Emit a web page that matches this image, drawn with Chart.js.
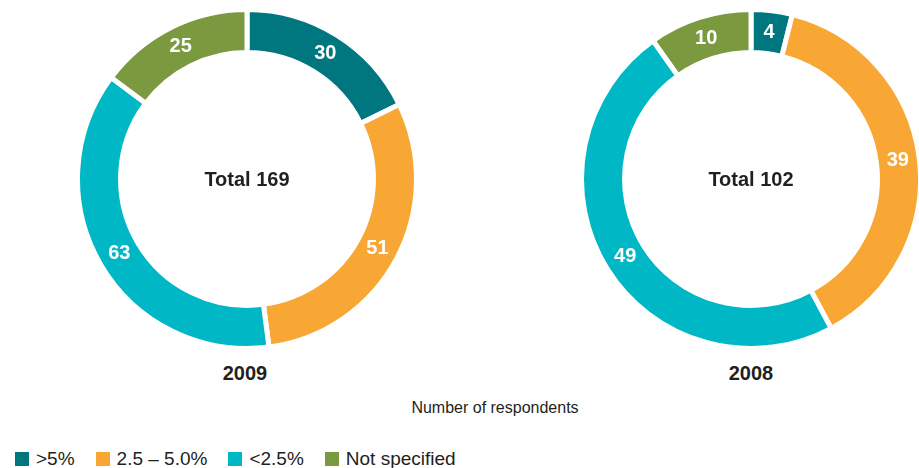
<!DOCTYPE html>
<html>
<head>
<meta charset="utf-8">
<script src="https://cdn.jsdelivr.net/npm/chart.js@4/dist/chart.umd.min.js"></script>
<style>
  html, body { margin: 0; padding: 0; background: #fff; }
  body { width: 919px; height: 468px; position: relative; overflow: hidden;
         font-family: "Liberation Sans", Arial, Helvetica, sans-serif; color: #231f20; }
  .ring { position: absolute; width: 350px; height: 350px; }
  .total { position: absolute; font-weight: bold; font-size: 20px; transform: translate(-50%, -50%); white-space: nowrap; }
  .year { position: absolute; font-weight: bold; font-size: 20px; transform: translateX(-50%); white-space: nowrap; }
  .note { position: absolute; left: 495px; top: 399px; font-size: 16px; transform: translateX(-50%); white-space: nowrap; }
  .legend { position: absolute; left: 15px; top: 448px; font-size: 19px; display: flex; align-items: center; white-space: nowrap; }
  .legend span.sw { display: inline-block; width: 14px; height: 14px; margin-right: 7px; }
  .legend span.item { display: inline-flex; align-items: center; margin-right: 21px; }
</style>
</head>
<body>
<div class="ring" id="wrapA" style="left:72px; top:4px;"><canvas id="ringA"></canvas></div>
<div class="ring" id="wrapB" style="left:576px; top:4px;"><canvas id="ringB"></canvas></div>
<div class="total" id="totalA" style="left:247px; top:179px;"></div>
<div class="total" id="totalB" style="left:751px; top:179px;"></div>
<div class="year" id="yearA" style="left:245px; top:362px;"></div>
<div class="year" id="yearB" style="left:751px; top:362px;"></div>
<div class="note">Number of respondents</div>
<div class="legend" id="legend"></div>

<script>
// Share of respondents by range, counts per survey year
const categories = ['>5%', '2.5 – 5.0%', '<2.5%', 'Not specified'];
const years = ['2009', '2008'];
const values2009 = [30, 51, 63, 25];
const values2008 = [4, 39, 49, 10];
const colors = ['#00777f', '#f8a634', '#00b8c5', '#7b993e'];

// White value labels on each ring segment
const segmentLabels = {
  id: 'segmentLabels',
  afterDatasetsDraw(chart) {
    const ctx = chart.ctx;
    const meta = chart.getDatasetMeta(0);
    const data = chart.data.datasets[0].data;
    ctx.save();
    ctx.fillStyle = '#ffffff';
    ctx.font = 'bold 20px "Liberation Sans", Arial, sans-serif';
    ctx.textAlign = 'center';
    ctx.textBaseline = 'middle';
    meta.data.forEach((arc, i) => {
      const p = arc.tooltipPosition();
      ctx.fillText(String(data[i]), p.x, p.y);
    });
    ctx.restore();
  }
};

function makeRing(canvasId, values) {
  return new Chart(document.getElementById(canvasId), {
    type: 'doughnut',
    data: {
      labels: categories,
      datasets: [{
        data: values,
        backgroundColor: colors,
        borderColor: '#ffffff',
        borderWidth: 5,
        borderAlign: 'center',
        hoverOffset: 0
      }]
    },
    options: {
      responsive: true,
      maintainAspectRatio: false,
      animation: false,
      radius: 169.5,
      cutout: '74.6%',
      layout: { padding: 0 },
      plugins: { legend: { display: false }, tooltip: { enabled: false } }
    },
    plugins: [segmentLabels]
  });
}

makeRing('ringA', values2009);
makeRing('ringB', values2008);

const sum = arr => arr.reduce((a, b) => a + b, 0);
document.getElementById('totalA').textContent = 'Total ' + sum(values2009);
document.getElementById('totalB').textContent = 'Total ' + sum(values2008);
document.getElementById('yearA').textContent = years[0];
document.getElementById('yearB').textContent = years[1];

const legend = document.getElementById('legend');
categories.forEach((c, i) => {
  const item = document.createElement('span');
  item.className = 'item';
  const sw = document.createElement('span');
  sw.className = 'sw';
  sw.style.background = colors[i];
  item.appendChild(sw);
  item.appendChild(document.createTextNode(c));
  legend.appendChild(item);
});
</script>
</body>
</html>
